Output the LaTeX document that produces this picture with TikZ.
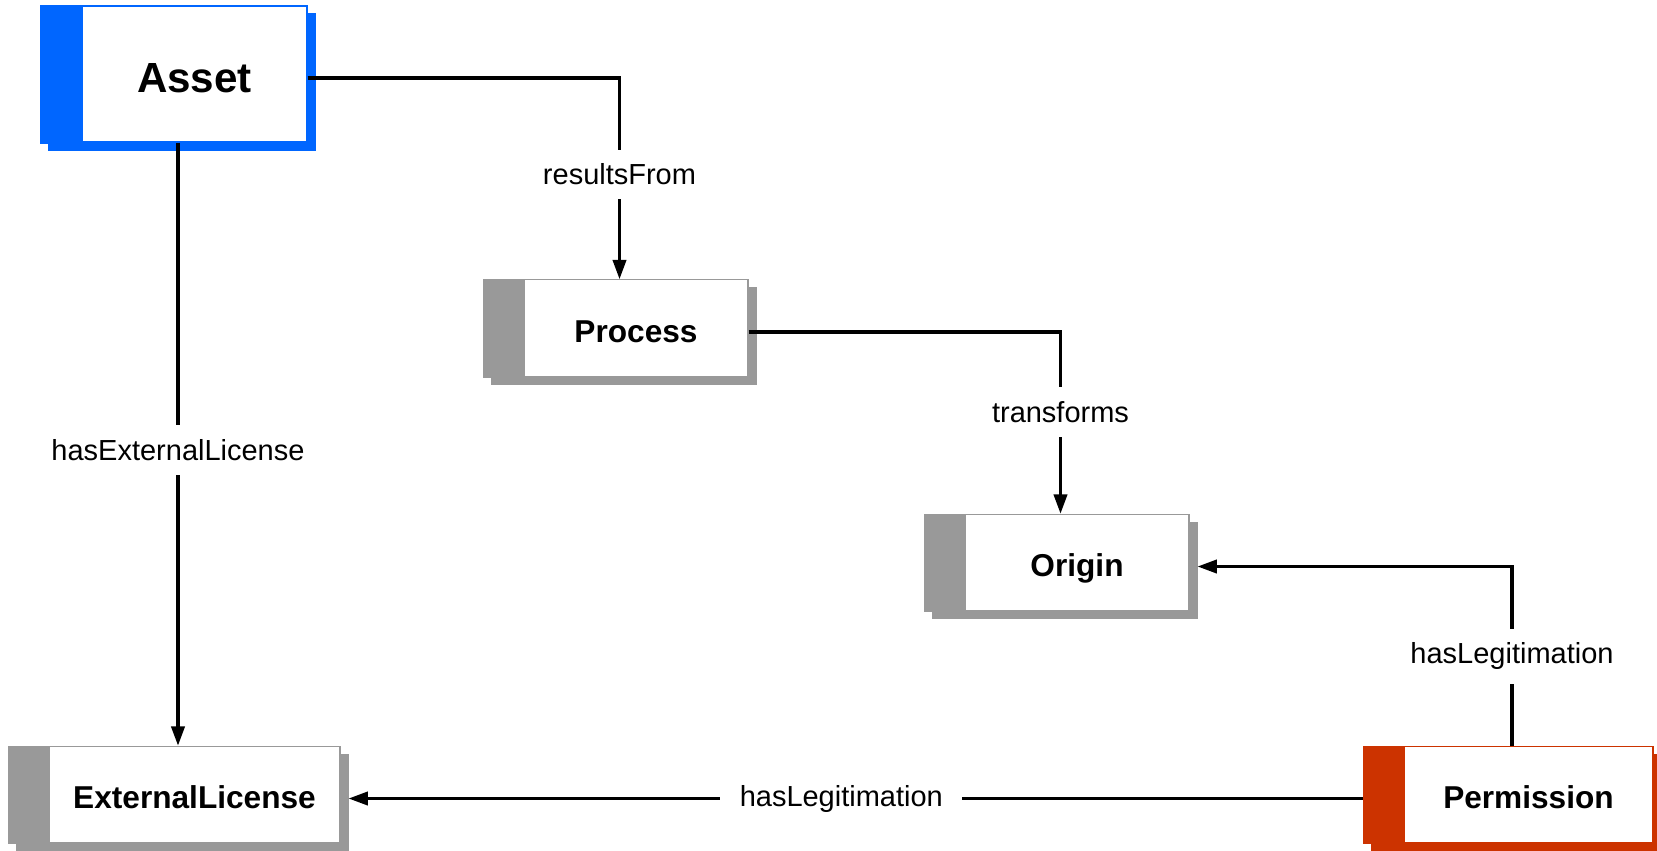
\documentclass[tikz,border=0pt]{standalone}
\usepackage{fontspec}
\setmainfont{Liberation Sans}
\usetikzlibrary{arrows.meta, backgrounds, calc}
\definecolor{assetblue}{HTML}{0066FF}
\definecolor{permred}{HTML}{CC3300}
\definecolor{boxgray}{HTML}{999999}

\begin{document}
\begin{tikzpicture}[
  x=0.02cm, y=-0.02cm,
  cls/.style={draw=#1, fill=white, line width=0.6pt, inner sep=0pt,
    minimum height=1.93cm, text height=16pt, text depth=0pt,
    font=\bfseries\fontsize{18}{20}\selectfont},
  arr/.style={-{Triangle[length=11pt, width=7.5pt]}, line width=1.9pt},
  lbl/.style={fill=white, inner xsep=11pt, inner ysep=8pt, font=\fontsize{16.5}{18}\selectfont}
]
\useasboundingbox (0,0) rectangle (1657,850);

\node[cls=assetblue, minimum width=4.5cm, minimum height=2.72cm, text height=21pt,
  font=\bfseries\fontsize{24}{26}\selectfont] (asset) at (194.5,74) {Asset};
\node[cls=boxgray, minimum width=4.48cm] (process) at (636,328) {Process};
\node[cls=boxgray, minimum width=4.48cm] (origin) at (1077,562.5) {Origin};
\node[cls=boxgray, minimum width=5.82cm] (extlicense) at (194.5,794.5) {ExternalLicense};
\node[cls=permred, minimum width=4.98cm] (permission) at (1528.5,794.5) {Permission};

% left bar and shadow of each box
\begin{scope}[on background layer]
\foreach \n/\c in {asset/assetblue, process/boxgray, origin/boxgray, extlicense/boxgray, permission/permred} {
  \fill[\c] ($(\n.north west)+(-33,8)$) rectangle ($(\n.south east)+(8,8)$);
  \fill[\c] ($(\n.north west)+(-41,0)$) rectangle ($(\n.south west)+(0,1)$);
}
\end{scope}

\draw[arr] ($(asset.east)+(0,4)$) -| node[lbl, pos=0.74] {resultsFrom} ($(process.north)+(-16.5,0)$);
\draw[arr] ($(process.east)+(0,4)$) -| node[lbl, pos=0.72] {transforms} ($(origin.north)+(-16.5,0)$);
\draw[arr] ($(asset.south)+(-16.5,0)$) -- node[lbl, pos=0.51] {hasExternalLicense} ($(extlicense.north)+(-16.5,0)$);
\draw[arr] ($(permission.north)+(-16.5,0)$) |- node[lbl, pos=0.25] {hasLegitimation} ($(origin.east)+(8,4)$);
\draw[arr] ($(permission.west)+(-41,4)$) -- node[lbl, pos=0.514] {hasLegitimation} ($(extlicense.east)+(8,4)$);
\end{tikzpicture}
\end{document}
